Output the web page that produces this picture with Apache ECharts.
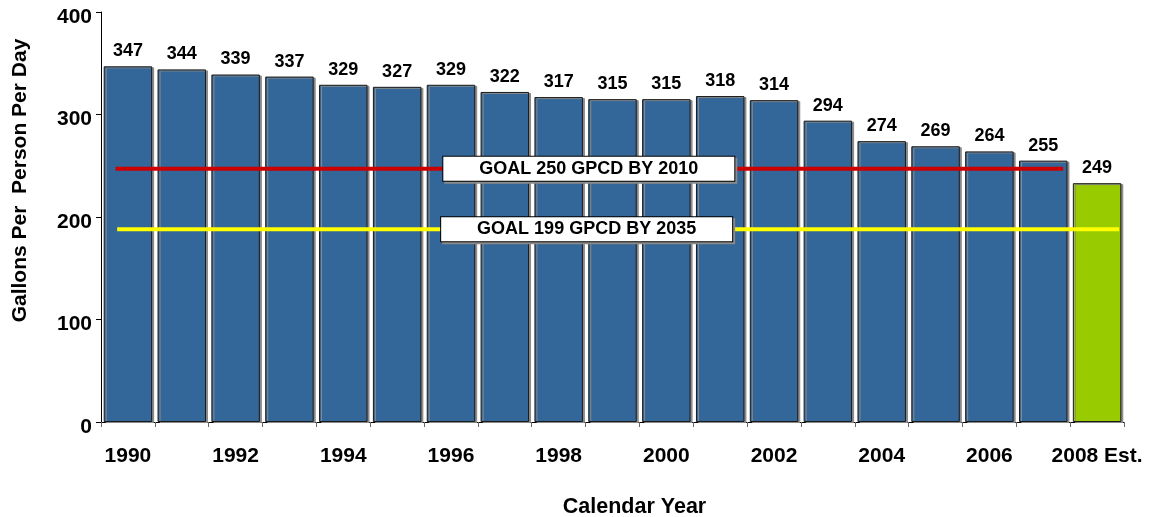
<!DOCTYPE html>
<html><head><meta charset="utf-8">
<script src="https://cdn.jsdelivr.net/npm/echarts@6/dist/echarts.min.js"></script>
<style>html,body{margin:0;padding:0;background:#fff}#c{width:1155px;height:517px}</style>
</head><body><div id="c"></div>
<script>
const categories = ['1990','1991','1992','1993','1994','1995','1996','1997','1998','1999','2000','2001','2002','2003','2004','2005','2006','2007','2008 Est.'];
const barValues = [347,344,339,337,329,327,329,322,317,315,315,318,314,294,274,269,264,255,233];
const valueLabels = ['347','344','339','337','329','327','329','322','317','315','315','318','314','294','274','269','264','255','249'];
const yTicks = [0,100,200,300,400];
const goal2010 = {text:'GOAL 250 GPCD BY 2010', value:247, from:0.27, to:17.87, labelAt:9.06};
const goal2035 = {text:'GOAL 199 GPCD BY 2035', value:188, from:0.30, to:18.91, labelAt:9.02};

const FONT = '"Liberation Sans", Arial, sans-serif';
const chart = echarts.init(document.getElementById('c'));

function goalSeries(g, color){
  const boxLabel = (extra) => Object.assign({show:true, position:'inside', formatter:g.text, color:'#000', fontWeight:'bold', fontSize:18, fontFamily:FONT,
      backgroundColor:'#fff', borderColor:'#000', borderWidth:1, width:291, height:24, lineHeight:24, align:'center',
      verticalAlign:'middle', padding:0}, extra || {});
  return [{
    type:'line', xAxisIndex:1, yAxisIndex:0, symbol:'none', silent:true, z:5,
    lineStyle:{color:color, width:4},
    data:[[g.from,g.value],[g.to,g.value]]
  },{
    type:'scatter', xAxisIndex:1, yAxisIndex:0, silent:true, z:6,
    symbol:'circle', symbolSize:0, itemStyle:{opacity:1},
    label:boxLabel({color:'rgba(0,0,0,0)', backgroundColor:'#8a8a8a', borderColor:'#8a8a8a', offset:[2,2]}),
    data:[[g.labelAt,g.value]]
  },{
    type:'scatter', xAxisIndex:1, yAxisIndex:0, silent:true, z:7,
    symbol:'circle', symbolSize:0, itemStyle:{opacity:1},
    label:boxLabel(),
    data:[[g.labelAt,g.value]]
  }];
}

chart.setOption({
  animation:false,
  textStyle:{fontFamily:FONT},
  grid:{left:101, right:31, top:12, bottom:95, containLabel:false},
  xAxis:[{
    type:'category', data:categories,
    axisLine:{lineStyle:{color:'#000', width:1}},
    axisTick:{show:true, interval:0, length:5, lineStyle:{color:'#666'}},
    axisLabel:{interval:(i)=>i%2===0, color:'#000', fontWeight:'bold', fontSize:21, fontFamily:FONT, margin:24},
    splitLine:{show:false}
  },{
    type:'value', min:0, max:categories.length, show:false
  }],
  yAxis:{
    type:'value', min:yTicks[0], max:yTicks[yTicks.length-1], interval:100,
    axisLine:{show:true, lineStyle:{color:'#000', width:1}},
    axisTick:{show:true, length:5, lineStyle:{color:'#000'}},
    axisLabel:{color:'#000', fontWeight:'bold', fontSize:21, fontFamily:FONT, margin:9, verticalAlign:'top', lineHeight:10},
    splitLine:{show:false}
  },
  series:[{
    type:'bar', barCategoryGap:'10%', silent:true, z:2,
    data:barValues.map((v,i)=>({value:v, itemStyle:{color: i===barValues.length-1 ? '#99CC00' : '#336699'}})),
    itemStyle:{borderColor:'#1a1a1a', borderWidth:1, shadowColor:'#8a8a8a', shadowOffsetX:2, shadowOffsetY:1},
    label:{show:true, position:'top', distance:6, color:'#000', fontWeight:'bold', fontSize:18, fontFamily:FONT,
      formatter:(p)=>valueLabels[p.dataIndex]}
  }, ...goalSeries(goal2010,'#CC0000'), ...goalSeries(goal2035,'#FFFF00')],
  graphic:[{
    type:'text', x:20, y:180.5, rotation:Math.PI/2,
    style:{text:'Gallons Per  Person Per Day', font:'bold 21px '+FONT, fill:'#000', textAlign:'center', textVerticalAlign:'middle'}
  },{
    type:'text', x:634.5, y:507,
    style:{text:'Calendar Year', font:'bold 21.5px '+FONT, fill:'#000', textAlign:'center', textVerticalAlign:'middle'}
  }]
});
</script></body></html>
